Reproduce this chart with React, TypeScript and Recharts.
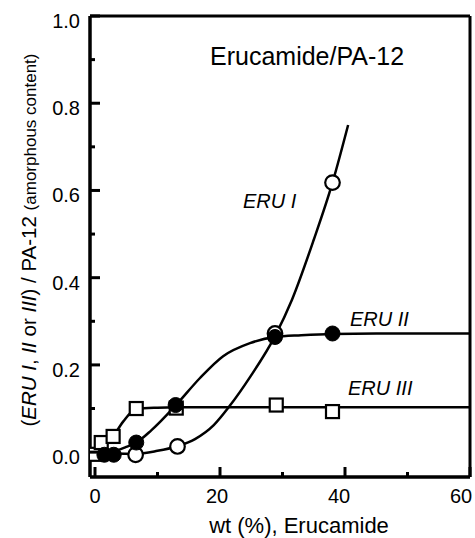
import React from 'react';
import { ComposedChart, Line, Scatter, XAxis, YAxis, ReferenceLine } from 'recharts';

// Fitted curves
const eru1Curve = [
  { x: 0, y: 0 }, { x: 3, y: -0.003 }, { x: 6.5, y: -0.004 }, { x: 10, y: 0.003 },
  { x: 13, y: 0.013 }, { x: 16, y: 0.03 }, { x: 19, y: 0.062 }, { x: 21.5, y: 0.105 },
  { x: 24.8, y: 0.172 }, { x: 28.8, y: 0.266 }, { x: 31.5, y: 0.349 }, { x: 35, y: 0.487 },
  { x: 38, y: 0.618 }, { x: 40.5, y: 0.75 },
];
const eru2Curve = [
  { x: 0, y: 0 }, { x: 1.5, y: 0 }, { x: 3, y: 0.002 }, { x: 5, y: 0.012 },
  { x: 6.6, y: 0.022 }, { x: 9, y: 0.05 }, { x: 12.9, y: 0.107 }, { x: 16.8, y: 0.17 },
  { x: 20.5, y: 0.22 }, { x: 24.8, y: 0.25 }, { x: 28.8, y: 0.264 }, { x: 33, y: 0.268 },
  { x: 38, y: 0.271 }, { x: 45, y: 0.272 }, { x: 60, y: 0.272 },
];
const eru3Curve = [
  { x: 0, y: 0 }, { x: 1, y: 0.02 }, { x: 2.9, y: 0.037 }, { x: 4.5, y: 0.07 },
  { x: 6.6, y: 0.099 }, { x: 10, y: 0.102 }, { x: 13, y: 0.103 }, { x: 20, y: 0.103 },
  { x: 29, y: 0.103 }, { x: 38, y: 0.103 }, { x: 60, y: 0.103 },
];

// Measured points
const eru1Points = [
  { x: 6.5, y: -0.006 }, { x: 13.2, y: 0.013 }, { x: 28.8, y: 0.272 }, { x: 38, y: 0.618 },
];
const eru2Points = [
  { x: 1.5, y: -0.006 }, { x: 3, y: -0.006 }, { x: 6.6, y: 0.022 }, { x: 12.9, y: 0.108 },
  { x: 28.8, y: 0.264 }, { x: 38, y: 0.272 },
];
const eru3Points = [
  { x: 0, y: -0.005 }, { x: 1, y: 0.022 }, { x: 2.9, y: 0.036 }, { x: 6.6, y: 0.1 },
  { x: 13, y: 0.101 }, { x: 29, y: 0.108 }, { x: 38, y: 0.093 },
];

const xTicks = [0, 10, 20, 30, 40, 50, 60];
const xMajor = [0, 20, 40, 60];
const yTicks = [0, 0.1, 0.2, 0.3, 0.4, 0.5, 0.6, 0.7, 0.8, 0.9, 1.0];
const yMajor = [0, 0.2, 0.4, 0.6, 0.8, 1.0];

const FONT = '"Liberation Sans", Arial, Helvetica, sans-serif';

const XTick = (props: any) => {
  const { x, y, payload } = props;
  const v = payload.value;
  const major = xMajor.includes(v);
  return (
    <g>
      <line x1={x} x2={x} y1={y} y2={y - (major ? 10 : 5)} stroke="#000" strokeWidth={3} />
      {major && (
        <text x={x - (v / 60) * 9} y={y + 26} textAnchor="middle" fontSize={20} fontFamily={FONT} fill="#000">
          {v}
        </text>
      )}
    </g>
  );
};

const YTick = (props: any) => {
  const { x, y, payload } = props;
  const v = payload.value;
  const major = yMajor.some((m) => Math.abs(m - v) < 1e-9);
  return (
    <g>
      <line x1={x} x2={x + (major ? 10 : 5)} y1={y} y2={y} stroke="#000" strokeWidth={3} />
      {major && (
        <text x={x - 10} y={y + 12} textAnchor="end" fontSize={20} fontFamily={FONT} fill="#000">
          {v.toFixed(1)}
        </text>
      )}
    </g>
  );
};

const OpenCircle = (p: any) => (
  <circle cx={p.cx} cy={p.cy} r={7.3} fill="#fff" stroke="#000" strokeWidth={2.2} />
);
const FilledCircle = (p: any) => (
  <circle cx={p.cx} cy={p.cy} r={7.5} fill="#000" stroke="#000" strokeWidth={1} />
);
const Square = (p: any) => (
  <rect x={p.cx - 6.5} y={p.cy - 6.5} width={13} height={13} fill="#fff" stroke="#000" strokeWidth={2.2} />
);

export default function App() {
  return (
    <div style={{ position: 'absolute', left: 0, top: 0, width: 475, height: 538, background: '#fff' }}>
      <ComposedChart
        width={475}
        height={538}
        margin={{ top: 16, right: 5, bottom: 31, left: 30 }}
      >
        <XAxis
          type="number"
          dataKey="x"
          domain={[-0.8, 60]}
          allowDataOverflow
          ticks={xTicks}
          interval={0}
          tickSize={0}
          tickMargin={0}
          tickLine={false}
          tick={<XTick />}
          axisLine={{ stroke: '#000', strokeWidth: 3.5 }}
          height={30}
        />
        <YAxis
          type="number"
          domain={[-0.057, 1.0]}
          allowDataOverflow
          ticks={yTicks}
          interval={0}
          tickSize={0}
          tickMargin={0}
          tickLine={false}
          tick={<YTick />}
          axisLine={{ stroke: '#000', strokeWidth: 3.5 }}
          width={60}
        />
        <ReferenceLine y={1.0} stroke="#000" strokeWidth={3} />
        <ReferenceLine x={60} stroke="#000" strokeWidth={3} />
        <Line data={eru3Curve} dataKey="y" type="monotone" stroke="#000" strokeWidth={2.5} dot={false} activeDot={false} isAnimationActive={false} />
        <Line data={eru2Curve} dataKey="y" type="monotone" stroke="#000" strokeWidth={2.5} dot={false} activeDot={false} isAnimationActive={false} />
        <Line data={eru1Curve} dataKey="y" type="monotone" stroke="#000" strokeWidth={2.5} dot={false} activeDot={false} isAnimationActive={false} />
        <Scatter data={eru3Points} dataKey="y" shape={Square} isAnimationActive={false} />
        <Scatter data={eru1Points} dataKey="y" shape={OpenCircle} isAnimationActive={false} />
        <Scatter data={eru2Points} dataKey="y" shape={FilledCircle} isAnimationActive={false} />
      </ComposedChart>
      <svg
        width={475}
        height={538}
        style={{ position: 'absolute', left: 0, top: 0, pointerEvents: 'none' }}
        fontFamily={FONT}
      >
        <text x={210} y={65} fontSize={25} fill="#000">Erucamide/PA-12</text>
        <text x={243} y={208} fontSize={20} fontStyle="italic" fill="#000">ERU I</text>
        <text x={350} y={326} fontSize={20} fontStyle="italic" fill="#000">ERU II</text>
        <text x={348} y={395} fontSize={20} fontStyle="italic" fill="#000">ERU III</text>
        <text x={299} y={533} fontSize={22} textAnchor="middle" fill="#000">wt (%), Erucamide</text>
        <text
          x={0}
          y={0}
          transform="translate(36,240) rotate(-90)"
          textAnchor="middle"
          fontSize={20.5}
          fill="#000"
        >
          <tspan>(</tspan>
          <tspan fontStyle="italic">ERU I</tspan>
          <tspan>, </tspan>
          <tspan fontStyle="italic">II</tspan>
          <tspan> or </tspan>
          <tspan fontStyle="italic">III</tspan>
          <tspan>) / PA-12 </tspan>
          <tspan fontSize={17}>(amorphous content)</tspan>
        </text>
      </svg>
    </div>
  );
}
